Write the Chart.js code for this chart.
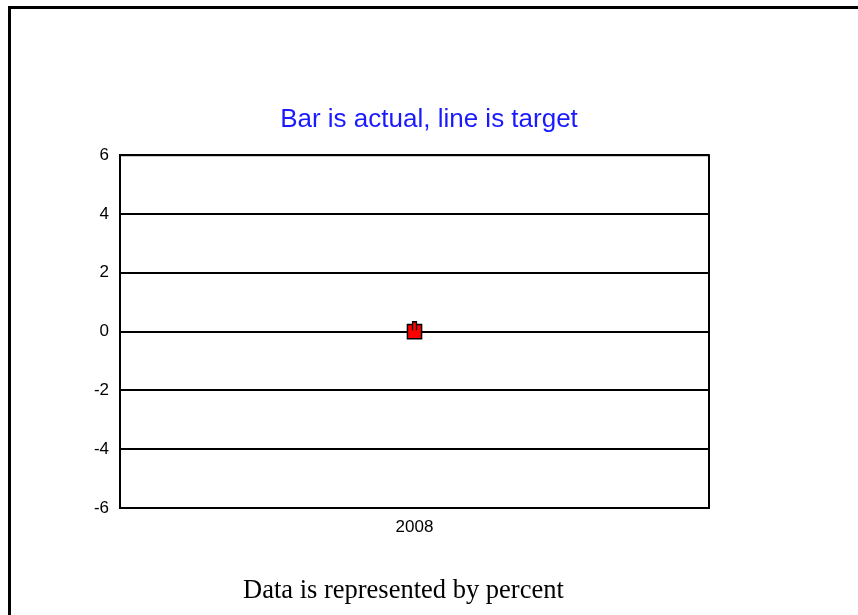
<!DOCTYPE html>
<html>
<head>
<meta charset="utf-8">
<script src="https://cdn.jsdelivr.net/npm/chart.js@4/dist/chart.umd.min.js"></script>
<style>
  body { margin: 0; background: #fff; overflow: hidden; }
  #frame { position: absolute; left: 8px; top: 6px; width: 900px; height: 700px;
           border-left: 3px solid #000; border-top: 3px solid #000; }
  #wrap { position: absolute; left: 0; top: 0; width: 858px; height: 615px; }
  #note { position: absolute; left: 243px; top: 576px; line-height: 1;
          font-family: "Liberation Serif", "Times New Roman", serif; font-size: 26.5px; color: #000; }
</style>
</head>
<body>
<div id="frame"></div>
<div id="wrap"><canvas id="grafico" width="858" height="615"></canvas></div>
<div id="note">Data is represented by percent</div>
<script>
// datos
var years = ["2008"];
var actual = [0.35];
var target = [0];
var yTicks = [-6, -4, -2, 0, 2, 4, 6];

var ctx = document.getElementById("grafico").getContext("2d");

// marco del area del grafico
var boxPlugin = {
  id: "box",
  beforeDatasetsDraw: function (chart) {
    var a = chart.chartArea;
    var c = chart.ctx;
    c.save();
    c.strokeStyle = "#000";
    c.lineWidth = 2;
    c.strokeRect(a.left, a.top, a.right - a.left, a.bottom - a.top);
    c.restore();
  }
};

var tickFont = { family: "'Liberation Sans', Arial, sans-serif", size: 17 };

var myChart = new Chart(ctx, {
  type: "bar",
  data: {
    labels: years,
    datasets: [
      {
        type: "bar",
        label: "Actual",
        data: actual,
        backgroundColor: "#ff0000",
        borderColor: "#000",
        borderWidth: 1.5,
        barThickness: 5,
        order: 0
      },
      {
        type: "line",
        label: "Target",
        data: target,
        borderColor: "#000",
        backgroundColor: "#ff0000",
        pointStyle: "rect",
        pointRadius: 10,
        pointBorderColor: "#000",
        pointBorderWidth: 1.5,
        pointBackgroundColor: "#ff0000",
        order: 1
      }
    ]
  },
  options: {
    responsive: false,
    animation: false,
    layout: { padding: 0 },
    plugins: {
      legend: { display: false },
      tooltip: { enabled: false },
      title: {
        display: true,
        text: "Bar is actual, line is target",
        color: "#1a1aff",
        font: { family: "'Liberation Sans', Arial, sans-serif", size: 26, weight: "normal" },
        padding: { top: 104, bottom: 20 }
      }
    },
    scales: {
      x: {
        grid: { display: false, drawTicks: false },
        border: { display: false },
        ticks: { color: "#000", font: tickFont, padding: 9 },
        afterFit: function (s) { s.height = 107; }
      },
      y: {
        min: -6,
        max: 6,
        afterBuildTicks: function (s) { s.ticks = yTicks.map(function (v) { return { value: v }; }); },
        grid: { color: "#000", lineWidth: 2, drawTicks: false },
        border: { color: "#000", width: 2 },
        ticks: { color: "#000", font: tickFont, padding: 11 },
        afterFit: function (s) { s.width = 120; }
      },
      y2: {
        position: "right",
        min: -6,
        max: 6,
        grid: { display: false, drawTicks: false },
        border: { display: false },
        ticks: { display: false },
        afterFit: function (s) { s.width = 149; }
      }
    }
  },
  plugins: [boxPlugin]
});
</script>
</body>
</html>
